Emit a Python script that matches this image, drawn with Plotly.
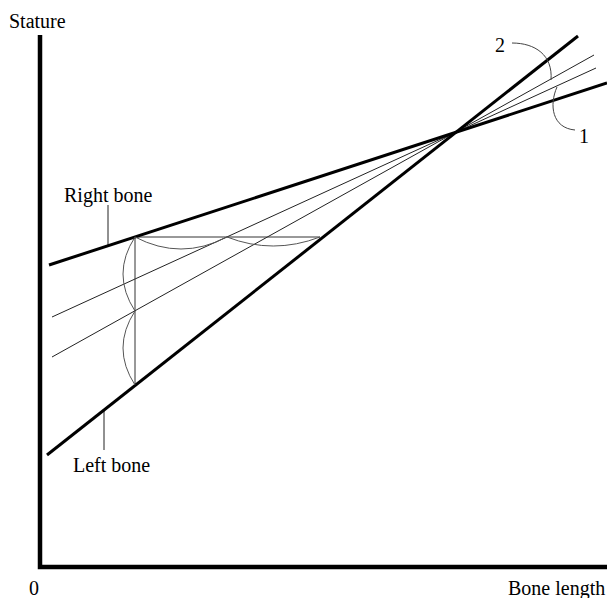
"""Stature vs bone length diagram: right/left bone regression lines and bisectors."""
import plotly.graph_objects as go

# axis frame (bone length on x, stature on y), origin at the corner
AXIS_X = [0, 0, 570]
AXIS_Y = [532, 0, 0]

# thick regression lines
RIGHT_BONE_X = [9, 567]
RIGHT_BONE_Y = [302, 484]
LEFT_BONE_X = [7, 538]
LEFT_BONE_Y = [112, 531]

# thin bisector lines (1 and 2)
LINE_A_X = [12, 556]
LINE_A_Y = [250, 499]
LINE_B_X = [12, 554]
LINE_B_Y = [210, 512]

# construction segments
HSEG_X = [95, 280]
HSEG_Y = [330, 330]
VSEG_X = [95, 95]
VSEG_Y = [330, 182]

# compass arcs: (x0, y0, ctrl_x, ctrl_y, x1, y1)
ARCS = [
    (95, 330, 141, 306, 187, 330),
    (187, 330, 233, 312, 280, 330),
    (95, 330, 71, 293, 95, 256),
    (95, 256, 71, 219, 95, 182),
]

# leader curves for labels 1 and 2: (x0, y0, c1x, c1y, c2x, c2y, x1, y1)
LEADERS = [
    (472, 524, 495, 524, 513, 512, 511, 487),
    (517, 480, 509, 462, 512, 439, 535, 437),
]

# labels
LABEL_TEXT = ["Stature", "0", "Bone length", "Right bone", "Left bone", "2", "1"]
LABEL_X = [-3, -6, 516, 68, 71, 460, 544]
LABEL_Y = [546, -21, -21, 372, 102, 522, 431]

# label leader ticks
RB_TICK_X = [68, 68]
RB_TICK_Y = [362, 321]
LB_TICK_X = [64, 64]
LB_TICK_Y = [157, 117]

FONT = dict(family="Liberation Serif, Times New Roman, serif", size=20, color="black")

fig = go.Figure()


def add_line(xs, ys, width, color="black"):
    fig.add_trace(go.Scatter(
        x=xs, y=ys, mode="lines",
        line=dict(color=color, width=width),
        hoverinfo="skip", showlegend=False,
    ))


add_line(AXIS_X, AXIS_Y, 4.5)
add_line(LINE_A_X, LINE_A_Y, 1, "#222")
add_line(LINE_B_X, LINE_B_Y, 1, "#222")
add_line(HSEG_X, HSEG_Y, 1, "#333")
add_line(VSEG_X, VSEG_Y, 1, "#333")
add_line(RB_TICK_X, RB_TICK_Y, 1, "#222")
add_line(LB_TICK_X, LB_TICK_Y, 1, "#222")
add_line(RIGHT_BONE_X, RIGHT_BONE_Y, 3)
add_line(LEFT_BONE_X, LEFT_BONE_Y, 3)

for x0, y0, cx, cy, x1, y1 in ARCS:
    fig.add_shape(type="path", xref="x", yref="y",
                  path=f"M {x0},{y0} Q {cx},{cy} {x1},{y1}",
                  line=dict(color="#555", width=1))

for x0, y0, c1x, c1y, c2x, c2y, x1, y1 in LEADERS:
    fig.add_shape(type="path", xref="x", yref="y",
                  path=f"M {x0},{y0} C {c1x},{c1y} {c2x},{c2y} {x1},{y1}",
                  line=dict(color="#444", width=1))

for t, x, y in zip(LABEL_TEXT, LABEL_X, LABEL_Y):
    fig.add_annotation(x=x, y=y, text=t, showarrow=False,
                       xanchor="center", yanchor="middle", font=FONT)

# page body has an 8px margin, so the figure is 8px smaller each way
fig.update_layout(
    width=607, height=590,
    margin=dict(l=0, r=0, t=0, b=0),
    paper_bgcolor="white", plot_bgcolor="white",
    xaxis=dict(range=[-32, 575], visible=False, fixedrange=True),
    yaxis=dict(range=[-31, 559], visible=False, fixedrange=True),
    showlegend=False,
)

fig.write_html("out.html")
